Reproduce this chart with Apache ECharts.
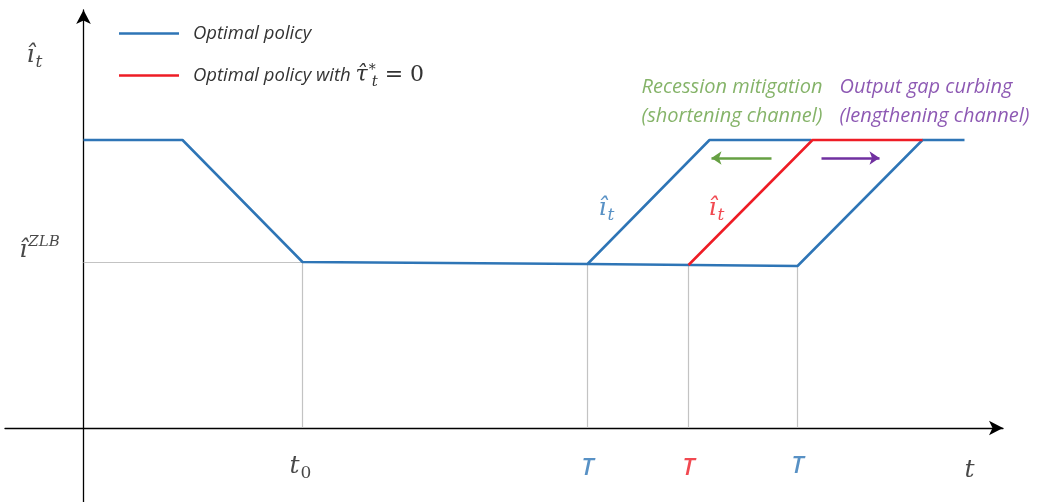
<!DOCTYPE html>
<html><head><meta charset="utf-8">
<script src="https://cdn.jsdelivr.net/npm/echarts@6/dist/echarts.min.js"></script>
<style>html,body{margin:0;padding:0;background:#fff}#c{width:1038px;height:502px}</style>
</head><body><div id="c"></div>
<script>
// ---- Schematic data (abstract time / rate units) ----
const bluePathA = [[0, 28.8], [9.9, 28.8], [21.9, 16.6], [50.4, 16.4], [62.6, 28.8], [72.8, 28.8]];
const bluePathB = [[50.4, 16.4], [71.4, 16.2], [83.9, 28.8], [88.1, 28.8]];
const redPath = [[60.5, 16.3], [72.9, 28.8], [83.9, 28.8]];
const zlbLevel = 16.6;
const t0 = 21.9;
const Tblue1 = 50.4, Tred = 60.5, Tblue2 = 71.4;
const Tlevels = [16.4, 16.3, 16.2];
const arrowY = 27.0;
const greenArrow = [[68.8, arrowY], [62.8, arrowY]];
const purpleArrow = [[73.8, arrowY], [79.6, arrowY]];
const seriesNames = ['Optimal policy', 'Optimal policy with τ̂ = 0'];

const BLUE = '#2E75B6', RED = '#EE1C25', GREEN = '#66A043', PURPLE = '#7030A0', GRAY = '#C3C3C3';
const MATH = "'DejaVu Serif', serif";
const SANS = "'Open Sans', Lato, sans-serif";

function mathRich(color) {
  return {
    m: {fontFamily: MATH, fontStyle: 'italic', fontSize: 25, color: color},
    sub: {fontFamily: MATH, fontStyle: 'italic', fontSize: 17, color: color, padding: [15, 0, 0, 1]},
    subr: {fontFamily: MATH, fontSize: 17, color: color, padding: [15, 0, 0, 1]},
    sup: {fontFamily: MATH, fontStyle: 'italic', fontSize: 15, color: color, padding: [0, 0, 15, 1]},
    tt: {fontFamily: SANS, fontStyle: 'italic', fontWeight: 600, fontSize: 24, color: color}
  };
}
function lab(x, y, text, color) {
  return {value: [x, y], label: {show: true, formatter: text, rich: mathRich(color), color: color}};
}
const labels = [
  lab(-4.9, 37.3, '{m|î}{sub|t}', '#1a1a1a'),
  lab(-4.4, 17.8, '{m|î}{sup|ZLB}', '#1a1a1a'),
  lab(t0 - 0.2, -3.8, '{m|t}{subr|0}', '#1a1a1a'),
  lab(Tblue1, -4.0, '{tt|T}', BLUE),
  lab(Tred, -4.0, '{tt|T}', RED),
  lab(Tblue2, -3.8, '{tt|T}', BLUE),
  lab(88.6, -4.2, '{m|t}', '#1a1a1a'),
  lab(52.3, 22.0, '{m|î}{sub|t}', BLUE),
  lab(63.3, 22.0, '{m|î}{sub|t}', RED)
];
const guides = [
  [[0, zlbLevel], [t0, zlbLevel]],
  [[t0, 0], [t0, zlbLevel]],
  [[Tblue1, 0], [Tblue1, Tlevels[0]]],
  [[Tred, 0], [Tred, Tlevels[1]]],
  [[Tblue2, 0], [Tblue2, Tlevels[2]]]
];

const chart = echarts.init(document.getElementById('c'), null, {renderer: 'canvas'});
chart.setOption({
  animation: false,
  backgroundColor: '#fff',
  grid: {left: 5, right: 35, top: 10, bottom: 0},
  xAxis: {
    type: 'value', min: -7.85, max: 91.95,
    axisLine: {onZero: true, lineStyle: {color: '#000', width: 1.3}, symbol: ['none', 'arrow'], symbolSize: [11, 14]},
    axisTick: {show: false}, axisLabel: {show: false}, splitLine: {show: false}
  },
  yAxis: {
    type: 'value', min: -7.4, max: 41.8,
    axisLine: {onZero: true, lineStyle: {color: '#000', width: 1.3}, symbol: ['none', 'arrow'], symbolSize: [11, 14]},
    axisTick: {show: false}, axisLabel: {show: false}, splitLine: {show: false}
  },
  legend: {
    data: seriesNames,
    orient: 'vertical', left: 114, top: 19,
    icon: 'rect', itemWidth: 60, itemHeight: 2.5, itemGap: 20,
    formatter: function (n) {
      return n === seriesNames[0] ? '{a|Optimal policy}' : '{a|Optimal policy with }{m|τ̂}{sup|*}{sub|t}{eq| = 0}';
    },
    textStyle: {
      padding: [0, 0, 0, 9],
      rich: {
        a: {fontFamily: SANS, fontStyle: 'italic', fontSize: 18.5, color: '#333', height: 22},
        m: {fontFamily: MATH, fontStyle: 'italic', fontSize: 22, color: '#333'},
        sup: {fontFamily: MATH, fontSize: 14, color: '#333', width: 2, padding: [0, 0, 11, 1]},
        sub: {fontFamily: MATH, fontStyle: 'italic', fontSize: 15, color: '#333', padding: [13, 0, 0, 1]},
        eq: {fontFamily: MATH, fontSize: 22, color: '#333'}
      }
    }
  },
  series: [
    {type: 'lines', coordinateSystem: 'cartesian2d', name: 'guides', z: 1, silent: true,
      lineStyle: {color: GRAY, width: 1.2, opacity: 1}, data: guides.map(c => ({coords: c}))},
    {type: 'line', name: seriesNames[0], data: bluePathA, showSymbol: false, symbol: 'none', color: BLUE,
      lineStyle: {color: BLUE, width: 2.5}, z: 3},
    {type: 'line', name: seriesNames[0], data: bluePathB, showSymbol: false, symbol: 'none', color: BLUE,
      lineStyle: {color: BLUE, width: 2.5}, z: 3},
    {type: 'line', name: seriesNames[1], data: redPath, showSymbol: false, symbol: 'none', color: RED,
      lineStyle: {color: RED, width: 2.5}, z: 4},
    {type: 'lines', coordinateSystem: 'cartesian2d', name: 'arrows', z: 5, silent: true,
      symbol: ['none', 'arrow'], symbolSize: 10,
      data: [
        {coords: greenArrow, lineStyle: {color: GREEN, width: 2.5, opacity: 1}},
        {coords: purpleArrow, lineStyle: {color: PURPLE, width: 2.5, opacity: 1}}
      ]},
    {type: 'scatter', name: 'labels', symbolSize: 0, z: 6, silent: true, data: labels,
      label: {show: true, position: 'inside', align: 'center', verticalAlign: 'middle'}},
    {type: 'scatter', name: 'channels', symbolSize: 0, z: 6, silent: true,
      label: {show: true, position: 'right', distance: 0, fontFamily: SANS, fontStyle: 'italic', fontSize: 20, lineHeight: 29},
      data: [
        {value: [55.8, 32.65], label: {formatter: 'Recession mitigation\n(shortening channel)', color: GREEN}},
        {value: [75.6, 32.65], label: {formatter: 'Output gap curbing\n(lengthening channel)', color: PURPLE}}
      ]}
  ]
});
</script>
</body></html>
